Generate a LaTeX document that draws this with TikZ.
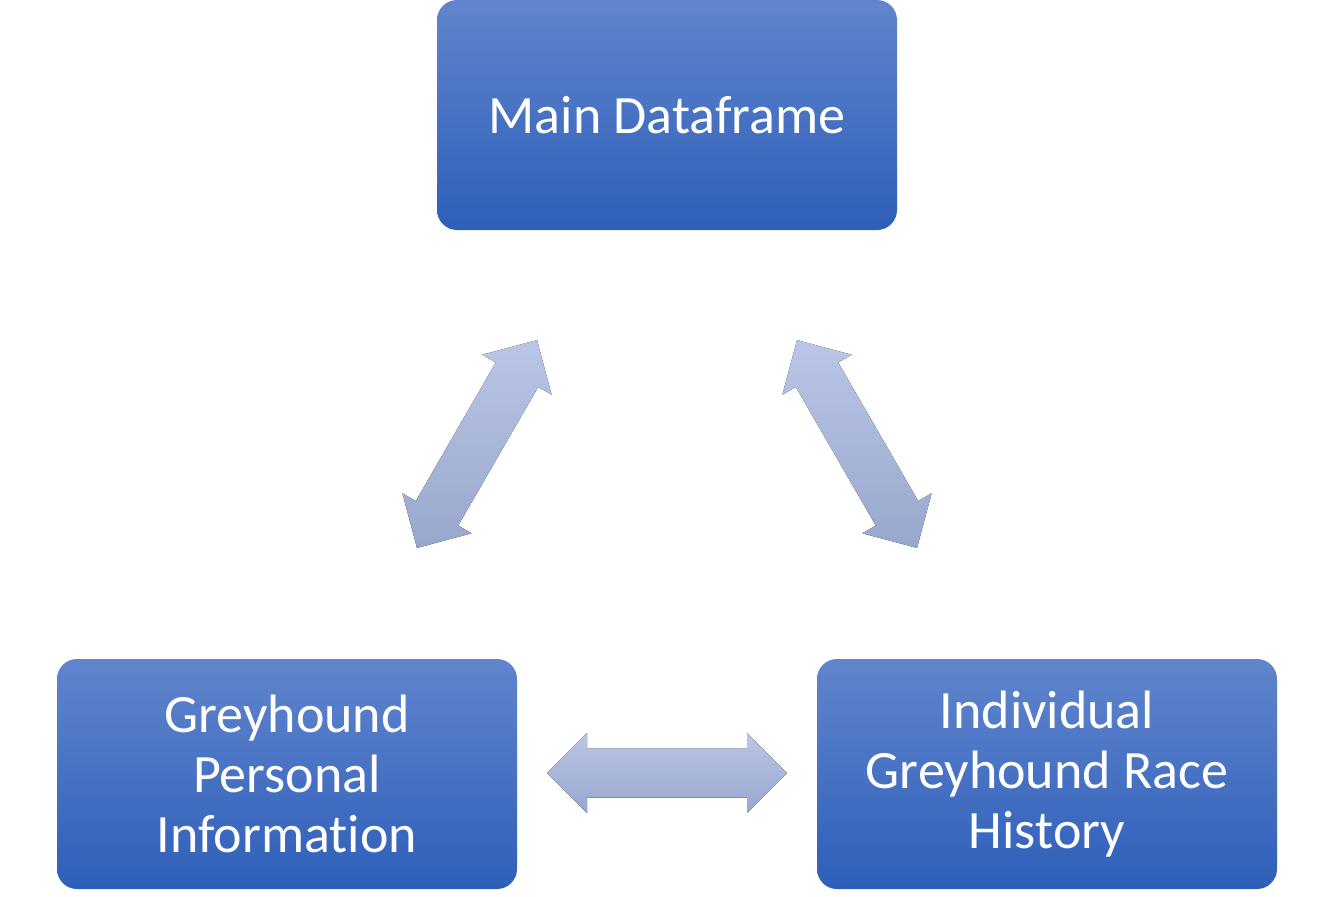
\documentclass[tikz,border=0pt]{standalone}
\usepackage{fontspec}
\setmainfont[Ligatures={NoCommon}]{Carlito}
\definecolor{boxtop}{HTML}{6185CD}
\definecolor{boxbot}{HTML}{2E5FB9}
\definecolor{arrtop}{HTML}{BAC6E6}
\definecolor{arrbot}{HTML}{97A7CC}
\tikzset{
  databox/.style={rectangle, rounded corners=20pt, minimum width=460pt, minimum height=230pt,
    top color=boxtop, bottom color=boxbot, draw=none, text=white, align=center,
    font=\fontsize{54}{60}\selectfont, inner sep=0pt},
  dblarrow/.pic={
    \fill[top color=arrtop, bottom color=arrbot]
      (-120,0) -- (-80,40) -- (-80,24.5) -- (80,24.5) -- (80,40) -- (120,0)
      -- (80,-40) -- (80,-24.5) -- (-80,-24.5) -- (-80,-40) -- cycle;
  }
}
\begin{document}
\begin{tikzpicture}[x=1pt,y=-1pt]
\useasboundingbox (0,0) rectangle (1334,897);
\node[databox] (main) at (667,115) {Main Dataframe};
\node[databox] (pers) at (287,774) {Greyhound\\Personal\\Information};
\node[databox] (race) at (1047,774) {Individual\\Greyhound Race\\History};
\coordinate (a1) at (477,444);
\coordinate (a2) at (857,444);
\coordinate (a3) at (667,773);
\pic[rotate=60] at (a1) {dblarrow};
\pic[rotate=120] at (a2) {dblarrow};
\pic at (a3) {dblarrow};
\end{tikzpicture}
\end{document}
